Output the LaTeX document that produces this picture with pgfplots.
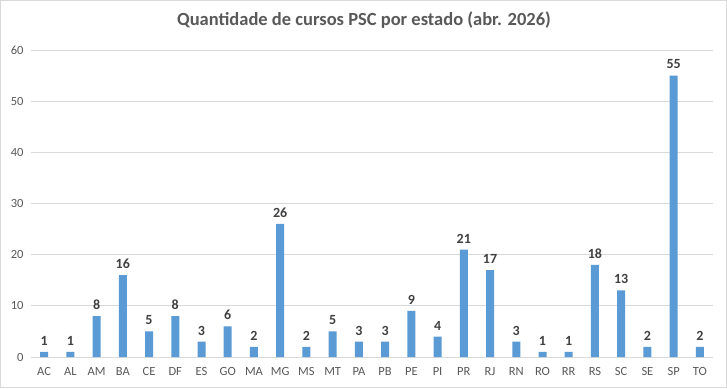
\documentclass[border=0pt]{standalone}
\usepackage{pgfplots}
\pgfplotsset{compat=1.18}
\usepackage{fontspec}
\setmainfont{Carlito}
\definecolor{barblue}{HTML}{5B9BD5}
\definecolor{gridc}{HTML}{D9D9D9}
\definecolor{txt}{HTML}{595959}
\definecolor{lbl}{HTML}{404040}
\begin{document}
\begin{tikzpicture}[x=1pt,y=1pt]
\useasboundingbox (0,0) rectangle (727,388);
\fill[white] (0,0) rectangle (727,388);
\draw[gridc,line width=1pt] (0.5,0.5) rectangle (726.5,387.5);
\node[font=\fontsize{18.5}{20}\selectfont\bfseries, text=txt] at (364,368) {Quantidade de cursos PSC por estado (abr. 2026)};
\begin{axis}[
  at={(31pt,31pt)}, anchor=south west,
  scale only axis, width=682pt, height=307pt,
  xmin=-0.5, xmax=25.5, ymin=0, ymax=60,
  ytick={0,10,...,60},
  xtick={0,...,25},
  xticklabels={AC,AL,AM,BA,CE,DF,ES,GO,MA,MG,MS,MT,PA,PB,PE,PI,PR,RJ,RN,RO,RR,RS,SC,SE,SP,TO},
  /pgf/number format/assume math mode=true,
  ymajorgrids, grid style={gridc, line width=0.8pt},
  major tick length=0pt,
  axis line style={draw=none},
  axis x line*=bottom,
  separate axis lines,
  x axis line style={draw=gridc, line width=0.8pt},
  y axis line style={draw=none},
  tick label style={font=\fontsize{12.5}{14}\selectfont, text=txt},
  xticklabel style={yshift=-6.5pt},
  yticklabel style={xshift=-4pt},
  ybar, bar width=8pt,
  nodes near coords,
  every node near coord/.append style={font=\fontsize{14}{16}\selectfont\bfseries, text=lbl, yshift=3pt, /pgf/number format/assume math mode=true},
  clip=false,
]
\addplot[fill=barblue, draw=none] coordinates {
(0,1) (1,1) (2,8) (3,16) (4,5) (5,8) (6,3) (7,6) (8,2) (9,26)
(10,2) (11,5) (12,3) (13,3) (14,9) (15,4) (16,21) (17,17) (18,3) (19,1)
(20,1) (21,18) (22,13) (23,2) (24,55) (25,2)};
\end{axis}
\end{tikzpicture}
\end{document}
